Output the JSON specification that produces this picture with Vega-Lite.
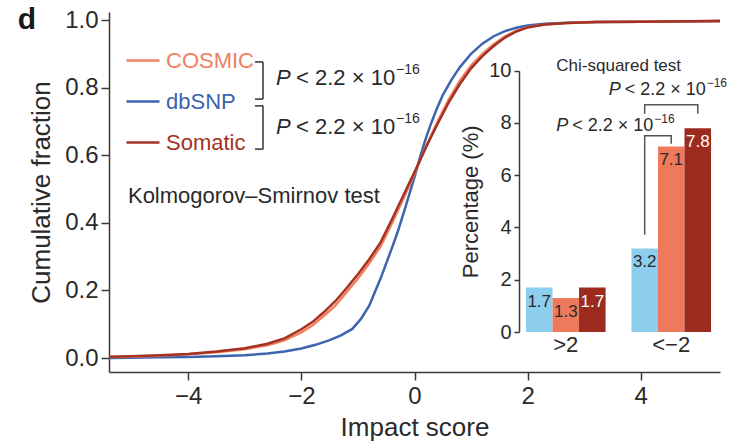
{
  "$schema": "https://vega.github.io/schema/vega-lite/v6.json",
  "width": 611,
  "height": 360,
  "autosize": "none",
  "padding": {"left": 109, "top": 12, "right": 11, "bottom": 70},
  "background": "white",
  "config": {
    "view": {"stroke": null},
    "font": "Liberation Sans",
    "axis": {
      "grid": false,
      "domainColor": "#3a3a3a",
      "tickColor": "#3a3a3a",
      "domainWidth": 1.5,
      "tickWidth": 1.5,
      "labelColor": "#2a2a2a",
      "titleColor": "#2a2a2a",
      "labelFont": "Liberation Sans",
      "titleFont": "Liberation Sans",
      "titleFontWeight": "normal"
    },
    "text": {"font": "Liberation Sans"}
  },
  "datasets": {
    "curves": [
      {"series": "dbSNP", "score": -5.4, "fraction": 0.0},
      {"series": "dbSNP", "score": -5.0, "fraction": 0.001},
      {"series": "dbSNP", "score": -4.5, "fraction": 0.002},
      {"series": "dbSNP", "score": -4.0, "fraction": 0.003},
      {"series": "dbSNP", "score": -3.5, "fraction": 0.005},
      {"series": "dbSNP", "score": -3.0, "fraction": 0.008},
      {"series": "dbSNP", "score": -2.6, "fraction": 0.013},
      {"series": "dbSNP", "score": -2.3, "fraction": 0.019},
      {"series": "dbSNP", "score": -2.0, "fraction": 0.028},
      {"series": "dbSNP", "score": -1.75, "fraction": 0.039},
      {"series": "dbSNP", "score": -1.5, "fraction": 0.053},
      {"series": "dbSNP", "score": -1.3, "fraction": 0.067},
      {"series": "dbSNP", "score": -1.1, "fraction": 0.086},
      {"series": "dbSNP", "score": -0.95, "fraction": 0.115},
      {"series": "dbSNP", "score": -0.8, "fraction": 0.155},
      {"series": "dbSNP", "score": -0.7, "fraction": 0.195},
      {"series": "dbSNP", "score": -0.6, "fraction": 0.235},
      {"series": "dbSNP", "score": -0.5, "fraction": 0.28},
      {"series": "dbSNP", "score": -0.4, "fraction": 0.325},
      {"series": "dbSNP", "score": -0.3, "fraction": 0.372},
      {"series": "dbSNP", "score": -0.2, "fraction": 0.425},
      {"series": "dbSNP", "score": -0.1, "fraction": 0.48},
      {"series": "dbSNP", "score": 0.0, "fraction": 0.535},
      {"series": "dbSNP", "score": 0.1, "fraction": 0.595},
      {"series": "dbSNP", "score": 0.2, "fraction": 0.65},
      {"series": "dbSNP", "score": 0.3, "fraction": 0.697},
      {"series": "dbSNP", "score": 0.4, "fraction": 0.74},
      {"series": "dbSNP", "score": 0.5, "fraction": 0.778},
      {"series": "dbSNP", "score": 0.65, "fraction": 0.822},
      {"series": "dbSNP", "score": 0.8, "fraction": 0.86},
      {"series": "dbSNP", "score": 1.0, "fraction": 0.9},
      {"series": "dbSNP", "score": 1.2, "fraction": 0.93},
      {"series": "dbSNP", "score": 1.4, "fraction": 0.952},
      {"series": "dbSNP", "score": 1.6, "fraction": 0.967},
      {"series": "dbSNP", "score": 1.8, "fraction": 0.977},
      {"series": "dbSNP", "score": 2.0, "fraction": 0.984},
      {"series": "dbSNP", "score": 2.3, "fraction": 0.989},
      {"series": "dbSNP", "score": 2.7, "fraction": 0.992},
      {"series": "dbSNP", "score": 3.2, "fraction": 0.994},
      {"series": "dbSNP", "score": 4.0, "fraction": 0.995},
      {"series": "dbSNP", "score": 5.4, "fraction": 0.997},
      {"series": "COSMIC", "score": -5.4, "fraction": 0.003},
      {"series": "COSMIC", "score": -5.0, "fraction": 0.004},
      {"series": "COSMIC", "score": -4.5, "fraction": 0.007},
      {"series": "COSMIC", "score": -4.0, "fraction": 0.011},
      {"series": "COSMIC", "score": -3.5, "fraction": 0.017},
      {"series": "COSMIC", "score": -3.0, "fraction": 0.026},
      {"series": "COSMIC", "score": -2.6, "fraction": 0.038},
      {"series": "COSMIC", "score": -2.3, "fraction": 0.052},
      {"series": "COSMIC", "score": -2.0, "fraction": 0.076},
      {"series": "COSMIC", "score": -1.8, "fraction": 0.097},
      {"series": "COSMIC", "score": -1.6, "fraction": 0.125},
      {"series": "COSMIC", "score": -1.4, "fraction": 0.155},
      {"series": "COSMIC", "score": -1.2, "fraction": 0.195},
      {"series": "COSMIC", "score": -1.0, "fraction": 0.235},
      {"series": "COSMIC", "score": -0.8, "fraction": 0.28},
      {"series": "COSMIC", "score": -0.6, "fraction": 0.33},
      {"series": "COSMIC", "score": -0.4, "fraction": 0.398},
      {"series": "COSMIC", "score": -0.2, "fraction": 0.47},
      {"series": "COSMIC", "score": 0.0, "fraction": 0.545},
      {"series": "COSMIC", "score": 0.2, "fraction": 0.625},
      {"series": "COSMIC", "score": 0.4, "fraction": 0.697},
      {"series": "COSMIC", "score": 0.6, "fraction": 0.763},
      {"series": "COSMIC", "score": 0.8, "fraction": 0.82},
      {"series": "COSMIC", "score": 1.0, "fraction": 0.865},
      {"series": "COSMIC", "score": 1.2, "fraction": 0.9},
      {"series": "COSMIC", "score": 1.4, "fraction": 0.928},
      {"series": "COSMIC", "score": 1.6, "fraction": 0.952},
      {"series": "COSMIC", "score": 1.8, "fraction": 0.968},
      {"series": "COSMIC", "score": 2.0, "fraction": 0.979},
      {"series": "COSMIC", "score": 2.3, "fraction": 0.987},
      {"series": "COSMIC", "score": 2.7, "fraction": 0.991},
      {"series": "COSMIC", "score": 3.2, "fraction": 0.994},
      {"series": "COSMIC", "score": 4.0, "fraction": 0.995},
      {"series": "COSMIC", "score": 5.4, "fraction": 0.997},
      {"series": "Somatic", "score": -5.4, "fraction": 0.004},
      {"series": "Somatic", "score": -5.0, "fraction": 0.005},
      {"series": "Somatic", "score": -4.5, "fraction": 0.008},
      {"series": "Somatic", "score": -4.0, "fraction": 0.012},
      {"series": "Somatic", "score": -3.5, "fraction": 0.019},
      {"series": "Somatic", "score": -3.0, "fraction": 0.029},
      {"series": "Somatic", "score": -2.6, "fraction": 0.042},
      {"series": "Somatic", "score": -2.3, "fraction": 0.058},
      {"series": "Somatic", "score": -2.0, "fraction": 0.085},
      {"series": "Somatic", "score": -1.8, "fraction": 0.107},
      {"series": "Somatic", "score": -1.6, "fraction": 0.136},
      {"series": "Somatic", "score": -1.4, "fraction": 0.168},
      {"series": "Somatic", "score": -1.2, "fraction": 0.207},
      {"series": "Somatic", "score": -1.0, "fraction": 0.248},
      {"series": "Somatic", "score": -0.8, "fraction": 0.292},
      {"series": "Somatic", "score": -0.6, "fraction": 0.342},
      {"series": "Somatic", "score": -0.4, "fraction": 0.41},
      {"series": "Somatic", "score": -0.2, "fraction": 0.48},
      {"series": "Somatic", "score": 0.0, "fraction": 0.55},
      {"series": "Somatic", "score": 0.2, "fraction": 0.622},
      {"series": "Somatic", "score": 0.4, "fraction": 0.69},
      {"series": "Somatic", "score": 0.6, "fraction": 0.755},
      {"series": "Somatic", "score": 0.8, "fraction": 0.81},
      {"series": "Somatic", "score": 1.0, "fraction": 0.857},
      {"series": "Somatic", "score": 1.2, "fraction": 0.893},
      {"series": "Somatic", "score": 1.4, "fraction": 0.923},
      {"series": "Somatic", "score": 1.6, "fraction": 0.948},
      {"series": "Somatic", "score": 1.8, "fraction": 0.966},
      {"series": "Somatic", "score": 2.0, "fraction": 0.978},
      {"series": "Somatic", "score": 2.3, "fraction": 0.987},
      {"series": "Somatic", "score": 2.7, "fraction": 0.991},
      {"series": "Somatic", "score": 3.2, "fraction": 0.994},
      {"series": "Somatic", "score": 4.0, "fraction": 0.995},
      {"series": "Somatic", "score": 5.4, "fraction": 0.997}
    ],
    "ksBrackets": [
      {"score": -2.82, "fraction": 0.876, "score2": -2.678, "fraction2": 0.876},
      {"score": -2.678, "fraction": 0.876, "score2": -2.678, "fraction2": 0.766},
      {"score": -2.82, "fraction": 0.766, "score2": -2.678, "fraction2": 0.766},
      {"score": -2.82, "fraction": 0.746, "score2": -2.678, "fraction2": 0.746},
      {"score": -2.678, "fraction": 0.746, "score2": -2.678, "fraction2": 0.618},
      {"score": -2.82, "fraction": 0.618, "score2": -2.678, "fraction2": 0.618}
    ],
    "ksP": [
      {"score": -2.447, "fraction": 0.828, "label": "< 2.2 × 10", "sup": "−16"},
      {"score": -2.447, "fraction": 0.683, "label": "< 2.2 × 10", "sup": "−16"}
    ],
    "mainNotes": [
      {"score": -5.065, "fraction": 0.479, "label": "Kolmogorov–Smirnov test"}
    ],
    "panel": [
      {"score": -6.85, "fraction": 1.0, "label": "d"}
    ],
    "bars": [
      {"group": ">2", "series": "dbSNP", "pct": 1.7},
      {"group": ">2", "series": "COSMIC", "pct": 1.3},
      {"group": ">2", "series": "Somatic", "pct": 1.7},
      {"group": "<−2", "series": "dbSNP", "pct": 3.2},
      {"group": "<−2", "series": "COSMIC", "pct": 7.1},
      {"group": "<−2", "series": "Somatic", "pct": 7.8}
    ],
    "chiBrackets": [
      {"bracket": "a", "step": 1, "group": "<−2", "series": "dbSNP", "pct": 3.72},
      {"bracket": "a", "step": 2, "group": "<−2", "series": "dbSNP", "pct": 7.51},
      {"bracket": "a", "step": 3, "group": "<−2", "series": "COSMIC", "pct": 7.51},
      {"bracket": "a", "step": 4, "group": "<−2", "series": "COSMIC", "pct": 7.2},
      {"bracket": "b", "step": 1, "group": "<−2", "series": "dbSNP", "pct": 8.35},
      {"bracket": "b", "step": 2, "group": "<−2", "series": "dbSNP", "pct": 8.7},
      {"bracket": "b", "step": 3, "group": "<−2", "series": "Somatic", "pct": 8.7},
      {"bracket": "b", "step": 4, "group": "<−2", "series": "Somatic", "pct": 8.35}
    ],
    "chiP": [
      {"group": "<−2", "series": "dbSNP", "pct": 9.27, "label": "< 2.2 × 10", "sup": "−16"},
      {"group": ">2", "series": "Somatic", "pct": 7.89, "label": "< 2.2 × 10", "sup": "−16"}
    ],
    "chiNote": [
      {"group": ">2", "series": "Somatic", "pct": 10.19, "label": "Chi-squared test"}
    ]
  },
  "layer": [
    {
      "encoding": {
        "x": {
          "field": "score",
          "type": "quantitative",
          "scale": {"domain": [-5.4, 5.4], "nice": false, "zero": false},
          "axis": {
            "title": "Impact score",
            "values": [-4, -2, 0, 2, 4],
            "tickSize": 8,
            "labelFontSize": 24,
            "labelPadding": 4,
            "titleFontSize": 26,
            "titlePadding": 6
          }
        },
        "y": {
          "field": "fraction",
          "type": "quantitative",
          "scale": {"domain": [-0.0414, 1.0237], "nice": false, "zero": false},
          "axis": {
            "title": "Cumulative fraction",
            "values": [0, 0.2, 0.4, 0.6, 0.8, 1],
            "format": ".1f",
            "tickSize": 8,
            "labelFontSize": 24,
            "labelPadding": 3,
            "titleFontSize": 26,
            "titlePadding": 10
          }
        }
      },
      "layer": [
        {
          "data": {"name": "curves"},
          "mark": {"type": "line", "strokeWidth": 2.5},
          "encoding": {
            "color": {
              "field": "series",
              "type": "nominal",
              "scale": {"domain": ["COSMIC", "dbSNP", "Somatic"], "range": ["#F08060", "#3D64AE", "#A33222"]},
              "legend": {
                "title": null,
                "orient": "none",
                "legendX": 16,
                "legendY": 30.5,
                "padding": 0,
                "symbolType": "stroke",
                "symbolSize": 1089,
                "symbolStrokeWidth": 2.5,
                "labelFontSize": 22,
                "labelOffset": 5,
                "rowPadding": 12,
                "encode": {
                  "labels": {
                    "update": {
                      "fill": {"signal": "datum.value === 'COSMIC' ? '#F08060' : (datum.value === 'dbSNP' ? '#3D64AE' : '#A33222')"}
                    }
                  }
                }
              }
            }
          }
        },
        {
          "data": {"name": "ksBrackets"},
          "mark": {"type": "rule", "color": "#333333", "strokeWidth": 1.5},
          "encoding": {
            "x2": {"field": "score2"},
            "y2": {"field": "fraction2"}
          }
        },
        {
          "data": {"name": "ksP"},
          "mark": {"type": "text", "align": "left", "baseline": "middle", "fontSize": 22, "fontStyle": "italic", "color": "#2a2a2a"},
          "encoding": {"text": {"value": "P"}}
        },
        {
          "data": {"name": "ksP"},
          "mark": {"type": "text", "align": "left", "baseline": "middle", "fontSize": 22, "dx": 20, "color": "#2a2a2a"},
          "encoding": {"text": {"field": "label"}}
        },
        {
          "data": {"name": "ksP"},
          "mark": {"type": "text", "align": "left", "baseline": "middle", "fontSize": 14, "dx": 120, "dy": -8, "color": "#2a2a2a"},
          "encoding": {"text": {"field": "sup"}}
        },
        {
          "data": {"name": "mainNotes"},
          "mark": {"type": "text", "align": "left", "baseline": "middle", "fontSize": 22, "color": "#2a2a2a"},
          "encoding": {"text": {"field": "label"}}
        },
        {
          "data": {"name": "panel"},
          "mark": {"type": "text", "align": "center", "baseline": "middle", "fontSize": 30, "fontWeight": "bold", "color": "#1a1a1a"},
          "encoding": {"text": {"field": "label"}}
        }
      ]
    },
    {
      "encoding": {
        "x": {
          "field": "group",
          "type": "nominal",
          "sort": [">2", "<−2"],
          "scale": {"domain": [">2", "<−2"], "range": [410, 609], "paddingInner": 0.245, "paddingOuter": 0.066},
          "axis": {
            "orient": "bottom",
            "offset": -40,
            "domain": false,
            "ticks": false,
            "title": null,
            "labelAngle": 0,
            "labelFontSize": 22,
            "labelPadding": 2
          }
        },
        "xOffset": {
          "field": "series",
          "type": "nominal",
          "sort": ["dbSNP", "COSMIC", "Somatic"],
          "scale": {"domain": ["dbSNP", "COSMIC", "Somatic"], "paddingInner": 0, "paddingOuter": 0}
        },
        "y": {
          "field": "pct",
          "type": "quantitative",
          "scale": {"domain": [0, 10], "range": [320, 58.7], "nice": false},
          "axis": {
            "orient": "left",
            "offset": -410,
            "title": "Percentage (%)",
            "values": [0, 2, 4, 6, 8, 10],
            "tickSize": 5,
            "labelFontSize": 20,
            "labelPadding": 3,
            "titleFontSize": 22,
            "titlePadding": 6
          }
        }
      },
      "layer": [
        {
          "data": {"name": "bars"},
          "mark": {"type": "bar"},
          "encoding": {
            "color": {
              "field": "series",
              "type": "nominal",
              "scale": {"domain": ["dbSNP", "COSMIC", "Somatic"], "range": ["#8DCDEE", "#EF7A5B", "#9A2B1E"]},
              "legend": null
            }
          }
        },
        {
          "data": {"name": "bars"},
          "mark": {"type": "text", "baseline": "middle", "dy": 14, "fontSize": 17},
          "encoding": {
            "text": {"field": "pct", "type": "quantitative", "format": ".1f"},
            "color": {"condition": {"test": "datum.series === 'Somatic'", "value": "#ffffff"}, "value": "#2a2a2a"}
          }
        },
        {
          "data": {"name": "chiBrackets"},
          "mark": {"type": "line", "color": "#555555", "strokeWidth": 1.5},
          "encoding": {
            "detail": {"field": "bracket"},
            "order": {"field": "step"}
          }
        },
        {
          "data": {"name": "chiP"},
          "mark": {"type": "text", "align": "left", "baseline": "middle", "fontSize": 18, "fontStyle": "italic", "dx": -36, "color": "#2a2a2a"},
          "encoding": {"text": {"value": "P"}}
        },
        {
          "data": {"name": "chiP"},
          "mark": {"type": "text", "align": "left", "baseline": "middle", "fontSize": 18, "dx": -20, "color": "#2a2a2a"},
          "encoding": {"text": {"field": "label"}}
        },
        {
          "data": {"name": "chiP"},
          "mark": {"type": "text", "align": "left", "baseline": "middle", "fontSize": 12, "dx": 62, "dy": -7, "color": "#2a2a2a"},
          "encoding": {"text": {"field": "sup"}}
        },
        {
          "data": {"name": "chiNote"},
          "mark": {"type": "text", "align": "left", "baseline": "middle", "fontSize": 17, "dx": -36, "color": "#2a2a2a"},
          "encoding": {"text": {"field": "label"}}
        }
      ]
    }
  ],
  "resolve": {"scale": {"x": "independent", "y": "independent", "color": "independent"}}
}
